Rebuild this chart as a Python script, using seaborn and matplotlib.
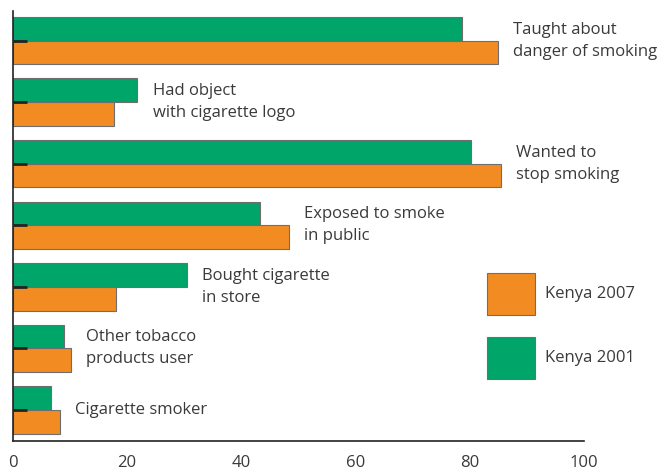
"""
Kenya youth tobacco survey: 2001 vs 2007, horizontal grouped bars.
Output: out.png
"""

import pandas as pd
import matplotlib.pyplot as plt
import seaborn as sns

categories = [
    "Taught about\ndanger of smoking",
    "Had object\nwith cigarette logo",
    "Wanted to\nstop smoking",
    "Exposed to smoke\nin public",
    "Bought cigarette\nin store",
    "Other tobacco\nproducts user",
    "Cigarette smoker",
]
kenya_2001 = [78.6, 21.8, 80.1, 43.3, 30.5, 8.9, 6.7]
kenya_2007 = [84.9, 17.7, 85.4, 48.3, 18.0, 10.2, 8.2]
x_ticks = [0, 20, 40, 60, 80, 100]

GREEN = "#00a56a"
ORANGE = "#f28c22"
TEXT = "#3a3a3a"
FS = 12

df = pd.DataFrame({
    "category": categories * 2,
    "value": kenya_2001 + kenya_2007,
    "year": ["Kenya 2001"] * len(categories) + ["Kenya 2007"] * len(categories),
})

sns.set_style("white")
plt.rcParams["font.family"] = ["Open Sans", "DejaVu Sans"]

fig = plt.figure(figsize=(6.59, 4.70), dpi=100)
ax = fig.add_axes([0.0193, 0.0623, 0.8674, 0.9143])

sns.barplot(data=df, x="value", y="category", hue="year",
            hue_order=["Kenya 2001", "Kenya 2007"], order=categories,
            palette={"Kenya 2001": GREEN, "Kenya 2007": ORANGE},
            orient="h", width=0.77, edgecolor="#6e6e6e", linewidth=0.8,
            saturation=1, ax=ax)

# category labels to the right of each pair of bars
for i, cat in enumerate(categories):
    top = max(kenya_2001[i], kenya_2007[i])
    ax.annotate(cat, xy=(top, i), xytext=(11, 0), textcoords="offset points",
                ha="left", va="center", fontsize=FS, color=TEXT, linespacing=1.5)

ax.set_xlim(0, 100)
ax.set_ylim(6.5, -0.48)
ax.set_axisbelow(False)  # short y ticks sit on top of the bars
ax.set_xticks(x_ticks)
ax.set_xticklabels([str(t) for t in x_ticks], fontsize=FS, color=TEXT)
ax.set_yticklabels([])
ax.set_xlabel("")
ax.set_ylabel("")
ax.tick_params(axis="x", direction="in", length=6.5, width=1.2, color="#222222", pad=10)
ax.tick_params(axis="y", direction="in", length=10, width=2, color="#222222", left=True)
sns.despine(ax=ax)
for side in ("left", "bottom"):
    ax.spines[side].set_color("#222222")
    ax.spines[side].set_linewidth(1.2)

handles, labels = ax.get_legend_handles_labels()
order = [labels.index("Kenya 2007"), labels.index("Kenya 2001")]
ax.legend([handles[k] for k in order], [labels[k] for k in order],
          loc="upper left", bbox_to_anchor=(0.7385, 0.42), bbox_transform=fig.transFigure,
          frameon=False, fontsize=FS, handlelength=2.88, handleheight=3.5,
          handletextpad=0.6, labelspacing=1.32, borderpad=0, borderaxespad=0,
          labelcolor=TEXT)

fig.savefig("out.png", dpi=100)
